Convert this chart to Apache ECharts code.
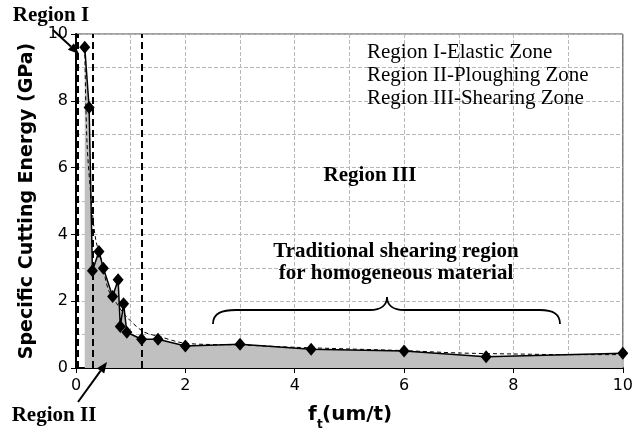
<!DOCTYPE html>
<html><head><meta charset="utf-8">
<script src="https://cdn.jsdelivr.net/npm/echarts@6/dist/echarts.min.js"></script>
<style>html,body{margin:0;padding:0;background:#fff}#c{width:636px;height:432px}</style>
</head><body><div id="c"></div>
<script>
// measured data: feed per tooth (um/t) vs specific cutting energy (GPa)
const feedX  = [0.16, 0.24, 0.30, 0.42, 0.50, 0.67, 0.77, 0.81, 0.87, 0.93, 1.2, 1.5, 2.0, 3.0, 4.3, 6.0, 7.5, 10.0];
const energy = [9.6, 7.8, 2.91, 3.49, 2.99, 2.14, 2.64, 1.24, 1.92, 1.07, 0.86, 0.86, 0.66, 0.71, 0.56, 0.51, 0.34, 0.44];
// dashed trend curve
const trendX = [0.16, 0.2, 0.28, 0.36, 0.47, 0.59, 0.74, 0.92, 1.23, 1.53, 2.0, 3.0, 4.0, 5.0, 6.0, 7.0, 8.0, 9.0, 10.0];
const trendY = [9.6, 6.8, 5.0, 3.85, 3.2, 2.35, 1.94, 1.54, 1.09, 0.94, 0.74, 0.69, 0.62, 0.57, 0.52, 0.45, 0.42, 0.40, 0.40];
// region boundaries (vertical dashed lines)
const regionBounds = [0.04, 0.3, 1.2];
// tick labels
const xTickLabels = ['0', '2', '4', '6', '8', '10'];
const yTickLabels = ['0', '2', '4', '6', '8', '10'];
const legendLines = ['Region I-Elastic Zone', 'Region II-Ploughing Zone', 'Region III-Shearing Zone'];

const chart = echarts.init(document.getElementById('c'), null, {renderer: 'canvas'});
const serif = 'Liberation Serif';
const sans = 'DejaVu Sans';

function arrow(x1, y1, x2, y2) {
  const a = Math.atan2(y2 - y1, x2 - x1), L = 11, W = 4.5;
  const bx = x2 - L * Math.cos(a), by = y2 - L * Math.sin(a);
  const px = -Math.sin(a) * W, py = Math.cos(a) * W;
  return [
    {type: 'line', shape: {x1: x1, y1: y1, x2: bx, y2: by}, style: {stroke: '#000', lineWidth: 2}, z: 100},
    {type: 'polygon', shape: {points: [[x2, y2], [bx + px, by + py], [bx - px, by - py]]}, style: {fill: '#000'}, z: 100}
  ];
}
function bez(x1, y1, c1x, c1y, c2x, c2y, x2, y2) {
  return {type: 'bezierCurve', shape: {x1: x1, y1: y1, cpx1: c1x, cpy1: c1y, cpx2: c2x, cpy2: c2y, x2: x2, y2: y2},
    style: {stroke: '#000', lineWidth: 1.8, fill: null}, z: 100};
}
function seg(x1, y1, x2, y2) {
  return {type: 'line', shape: {x1: x1, y1: y1, x2: x2, y2: y2}, style: {stroke: '#000', lineWidth: 1.8}, z: 100};
}
function label(x, y, t) {
  return {type: 'text', x: x, y: y, style: {text: t, font: 'bold 21px ' + serif, fill: '#000', align: 'center', verticalAlign: 'middle'}, z: 100};
}

const graphics = [
  label(51, 16, 'Region I'),
  label(54, 416, 'Region II'),
  label(370, 176, 'Region III'),
  label(396, 252, 'Traditional shearing region'),
  label(396, 274, 'for homogeneous material'),
  bez(213, 324, 213, 313, 222, 310, 236, 310),
  seg(236, 310, 370, 310),
  bez(370, 310, 381, 310, 387, 305, 387, 297),
  bez(387, 297, 387, 305, 393, 310, 404, 310),
  seg(404, 310, 540, 310),
  bez(540, 310, 552, 310, 560, 313, 560, 324),
  {type: 'text', x: 308, y: 415, style: {text: 'f', font: 'bold 20px ' + sans, fill: '#000', align: 'left', verticalAlign: 'middle'}, z: 100},
  {type: 'text', x: 317, y: 425, style: {text: 't', font: 'bold 12px ' + sans, fill: '#000', align: 'left', verticalAlign: 'middle'}, z: 100},
  {type: 'text', x: 322, y: 415, style: {text: '(um/t)', font: 'bold 20px ' + sans, fill: '#000', align: 'left', verticalAlign: 'middle'}, z: 100}
].concat(arrow(53, 30, 79, 54), arrow(78, 402, 107, 362));
legendLines.forEach(function (t, i) {
  graphics.push({type: 'text', x: 367, y: 52 + i * 23, style: {text: t, font: '21px ' + serif, fill: '#000', align: 'left', verticalAlign: 'middle'}, z: 100});
});

function gridLine() { return {show: true, lineStyle: {color: '#b8b8b8', type: 'dashed', width: 1, opacity: 1}}; }

chart.setOption({
  animation: false,
  backgroundColor: '#fff',
  grid: {left: 76, right: 11, top: 34, bottom: 64, show: true, borderColor: '#444', borderWidth: 1, backgroundColor: 'rgba(0,0,0,0)'},
  xAxis: {
    type: 'value', min: 0, max: 10, interval: 2,
    axisLine: {show: true, onZero: false, lineStyle: {color: '#000', width: 2}},
    axisTick: {show: true, length: 5, lineStyle: {color: '#000'}},
    axisLabel: {margin: 10, color: '#000', fontFamily: sans, fontSize: 16,
      formatter: function (v) { return xTickLabels[Math.round(v / 2)]; }},
    splitLine: gridLine(),
    minorTick: {show: true, splitNumber: 2, length: 0},
    minorSplitLine: gridLine()
  },
  yAxis: {
    type: 'value', min: 0, max: 10, interval: 2,
    name: 'Specific Cutting Energy (GPa)', nameLocation: 'middle', nameGap: 36,
    nameTextStyle: {fontFamily: sans, fontWeight: 'bold', fontSize: 19, color: '#000'},
    axisLine: {show: true, onZero: false, lineStyle: {color: '#000', width: 2}},
    axisTick: {show: true, length: 5, lineStyle: {color: '#000'}},
    axisLabel: {margin: 8, color: '#000', fontFamily: sans, fontSize: 16,
      formatter: function (v) { return yTickLabels[Math.round(v / 2)]; }},
    splitLine: gridLine(),
    minorTick: {show: true, splitNumber: 2, length: 0},
    minorSplitLine: gridLine()
  },
  series: [
    {
      type: 'line', name: 'energy',
      data: feedX.map(function (x, i) { return [x, energy[i]]; }),
      symbol: 'diamond', symbolSize: [11, 13],
      itemStyle: {color: '#000'},
      lineStyle: {color: '#000', width: 1.5},
      areaStyle: {color: '#c0c0c0', opacity: 1},
      z: 3
    },
    {
      type: 'line', name: 'trend',
      data: trendX.map(function (x, i) { return [x, trendY[i]]; }),
      smooth: 0.3, showSymbol: false, symbol: 'none',
      lineStyle: {color: '#000', width: 1, type: [4, 3]},
      z: 4,
      markLine: {
        silent: true, symbol: 'none', label: {show: false},
        lineStyle: {color: '#000', width: 2, type: [7, 4]},
        data: regionBounds.map(function (b) { return {xAxis: b}; })
      }
    }
  ],
  graphic: graphics
});
</script>
</body></html>
